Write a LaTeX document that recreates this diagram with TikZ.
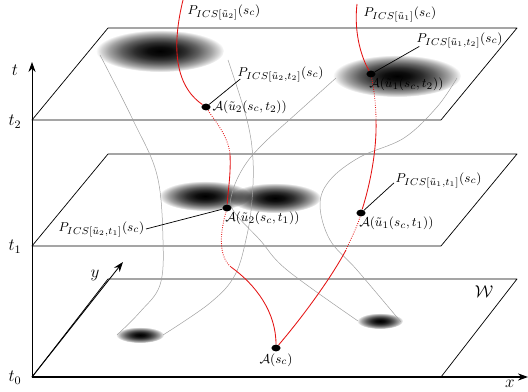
\documentclass[tikz,border=0pt]{standalone}
\usepackage{amsmath}
\usepackage{tikz}
\usetikzlibrary{arrows.meta,positioning,fadings,shapes.geometric}
\definecolor{trajR}{RGB}{228,20,20}
\definecolor{tubeG}{RGB}{160,160,160}
\pgfdeclareradialshading{blobshade}{\pgfpointorigin}{%
  color(0bp)=(white); color(5bp)=(black!5);
  color(10bp)=(black!18); color(15bp)=(black!38);
  color(20bp)=(black!64); color(23bp)=(black!84);
  color(25bp)=(black); color(50bp)=(black)}
\pgfdeclarefading{blobfade}{\pgfuseshading{blobshade}}

\begin{document}
\begin{tikzpicture}[x=0.7pt,y=-0.7pt,line join=round]
  \tikzset{plane/.style={draw=black,line width=0.5pt},
    axis/.style={-{Stealth[length=7pt,width=5pt]},line width=0.6pt},
    axlbl/.style={font=\large},
    tube/.style={draw=tubeG,line width=0.35pt},
    traj/.style={draw=trajR,line width=0.6pt},
    hidden/.style={traj,densely dotted},
    pt/.style={ellipse,fill=black,inner sep=0pt,minimum width=6.4pt,minimum height=4.8pt},
    lbl/.style={inner sep=1pt,font=\fontsize{9.3}{11}\selectfont},
    lead/.style={draw=black,line width=0.5pt},
    blob/.style={fill=black,path fading=blobfade}}
  \useasboundingbox (0,0) rectangle (528,392);
  \foreach \cx/\cy/\rx/\ry in {160/51/64/21,397/76/64/21,205/196/46/15,275/198/46/15,140/335/24/8,380/321/23/8} {
    \fill[blob] (\cx,\cy) ellipse [x radius=\rx,y radius=\ry];
  }
  \foreach \top/\bot in {28/120,154/246,279/377} {
    \draw[plane] (32,\bot) -- (441,\bot) -- (517,\top) -- (108,\top) -- cycle;
  }
  \draw[tube] plot[smooth,tension=0.6] coordinates {(100,55) (133,120) (157,175) (163,240) (160,285) (140,312) (117,335)};
  \draw[tube] plot[smooth,tension=0.6] coordinates {(228,60) (247,120) (253,160) (252,200) (247,235) (235,275) (210,303) (163,335)};
  \draw[tube] plot[smooth,tension=0.6] coordinates {(336,78) (297,113) (264,143) (245,165) (233,190) (233,210) (260,240) (287,270) (358,321)};
  \draw[tube] plot[smooth,tension=0.6] coordinates {(457,78) (437,107) (404,138) (360,157) (330,180) (320,205) (330,240) (357,270) (401,322)};
  \coordinate (O) at (32,377);
  \coordinate (tEnd) at (32,62);
  \coordinate (xEnd) at (528,377);
  \coordinate (yEnd) at (123,262);
  \draw[axis] (O) -- (tEnd);
  \draw[axis,line width=0.8pt] (O) -- (xEnd);
  \draw[axis] (O) -- (yEnd);
  \node[axlbl] (tLab) at (15,70) {$t$};
  \node[axlbl] (t2Lab) at (15,122) {$t_2$};
  \node[axlbl] (t1Lab) at (15,247) {$t_1$};
  \node[axlbl] (t0Lab) at (15,378) {$t_0$};
  \node[axlbl] (xLab) at (510,384) {$x$};
  \node[axlbl] (yLab) at (95,275) {$y$};
  \node[axlbl] (wLab) at (484,292) {$\mathcal{W}$};
  \node[pt] (dU2T2) at (206,107) {};
  \node[pt] (dU1T2) at (371,74) {};
  \node[pt] (dU2T1) at (227,208) {};
  \node[pt] (dU1T1) at (361,213) {};
  \node[pt] (dA) at (276,348) {};
  \coordinate (u2top) at (183,0);
  \coordinate (u1top) at (357,4);
  \coordinate (u2a) at (230,154);
  \coordinate (u2b) at (231,267);
  \coordinate (u1a) at (376,120);
  \coordinate (u1b) at (346,250);
  \draw[traj] (u2top) .. controls (172,45) and (174,85) .. (dU2T2);
  \draw[hidden] (dU2T2) .. controls (214,120) and (228,135) .. (u2a);
  \draw[traj] (u2a) .. controls (231,175) and (228,190) .. (dU2T1);
  \draw[hidden] (dU2T1) .. controls (221,230) and (217,255) .. (u2b);
  \draw[traj] (u2b) .. controls (256,285) and (276,312) .. (dA);
  \draw[traj] (u1top) .. controls (354,30) and (360,55) .. (dU1T2);
  \draw[hidden] (dU1T2) .. controls (374,90) and (376,105) .. (u1a);
  \draw[traj] (u1a) .. controls (377,150) and (370,185) .. (dU1T1);
  \draw[hidden] (dU1T1) .. controls (357,228) and (350,240) .. (u1b);
  \draw[traj] (u1b) .. controls (330,280) and (300,320) .. (dA);
  \node[lbl,anchor=west] (lPu2) at (186,12) {$P_{ICS[\tilde{u}_2]}(s_c)$};
  \node[lbl,anchor=west] (lPu1) at (362,14) {$P_{ICS[\tilde{u}_1]}(s_c)$};
  \node[lbl,anchor=west] (lPu1t2) at (415,40) {$P_{ICS[\tilde{u}_1,t_2]}(s_c)$};
  \node[lbl,anchor=west] (lPu2t2) at (236,74) {$P_{ICS[\tilde{u}_2,t_2]}(s_c)$};
  \node[lbl,anchor=west] (lPu1t1) at (394,180) {$P_{ICS[\tilde{u}_1,t_1]}(s_c)$};
  \node[lbl,anchor=east] (lPu2t1) at (146,229) {$P_{ICS[\tilde{u}_2,t_1]}(s_c)$};
  \node[lbl,right=0pt of dU2T2] (lAu2t2) {$\mathcal{A}(\tilde{u}_2(s_c,t_2))$};
  \node[lbl,anchor=north west] (lAu1t2) at (dU1T2.south west) {$\mathcal{A}(\tilde{u}_1(s_c,t_2))$};
  \node[lbl,anchor=north west] (lAu2t1) at (dU2T1.south west) {$\mathcal{A}(\tilde{u}_2(s_c,t_1))$};
  \node[lbl,anchor=north west] (lAu1t1) at (dU1T1.south west) {$\mathcal{A}(\tilde{u}_1(s_c,t_1))$};
  \node[lbl,below=0pt of dA] (lA) {$\mathcal{A}(s_c)$};
  \draw[lead] ([xshift=3pt,yshift=3pt]lPu2t2.south west) -- (dU2T2);
  \draw[lead] ([xshift=3pt,yshift=2pt]lPu1t2.south west) -- (dU1T2);
  \draw[lead] ([yshift=-2pt]lPu1t1.west) -- (dU1T1);
  \draw[lead] (lPu2t1.east) -- (dU2T1);
\end{tikzpicture}
\end{document}
